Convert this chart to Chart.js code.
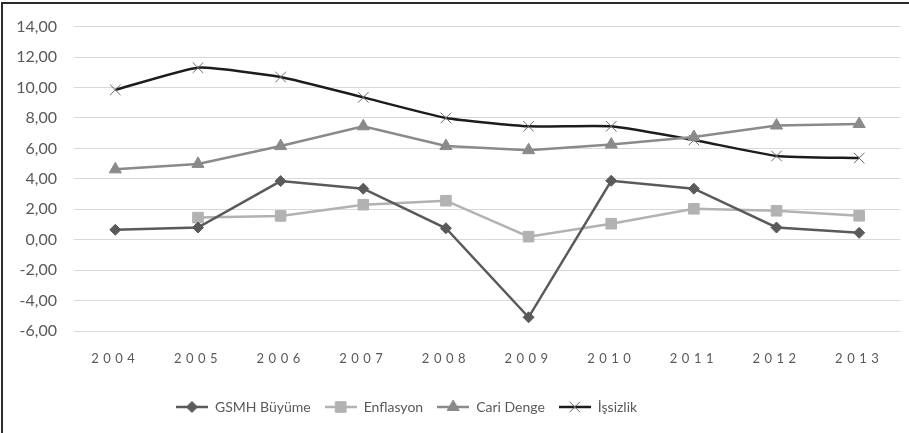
<!DOCTYPE html>
<html lang="tr">
  <head>
    <meta charset="utf-8" />
    <title>GSMH, Enflasyon, Cari Denge, İşsizlik</title>
    <style>
      * {
        margin: 0;
        padding: 0;
      }
      body {
        background: #fff;
      }
      .chartBox {
        position: relative;
        width: 909px;
        height: 433px;
      }
      .frame {
        position: absolute;
        left: 1px;
        top: 2px;
        right: 0;
        bottom: 0;
        border-left: 2px solid #2b2b2b;
        border-top: 2px solid #2b2b2b;
        pointer-events: none;
      }
    </style>
  </head>
  <body>
    <div class="chartBox">
      <canvas id="myChart"></canvas>
      <div class="frame"></div>
    </div>

    <script src="https://cdn.jsdelivr.net/npm/chart.js"></script>
    <script>
      // data
      const years = ["2004", "2005", "2006", "2007", "2008", "2009", "2010", "2011", "2012", "2013"];
      const gsmhBuyume = [0.65, 0.8, 3.85, 3.35, 0.75, -5.1, 3.87, 3.35, 0.8, 0.45];
      const enflasyon = [null, 1.45, 1.56, 2.3, 2.56, 0.2, 1.05, 2.03, 1.9, 1.57];
      const cariDenge = [4.62, 4.98, 6.15, 7.45, 6.15, 5.88, 6.25, 6.75, 7.5, 7.6];
      const issizlik = [9.84, 11.3, 10.69, 9.35, 8.0, 7.45, 7.45, 6.55, 5.5, 5.36];
      const yTicks = [-6, -4, -2, 0, 2, 4, 6, 8, 10, 12, 14];

      const FONT = "Lato, 'Open Sans', sans-serif";

      const markers = {
        gsmh: { style: "rectRot", r: 5.5 },
        enf: { style: "rect", r: 7.5 },
        cari: { style: "triangle", r: 7 },
        iss: { style: "crossRot", r: 7.5 },
      };

      // little line + marker picture for the legend
      const drawIcon = (lineColor, m, fill, border) => {
        const c = document.createElement("canvas");
        c.width = 32;
        c.height = 16;
        const ctx = c.getContext("2d");
        ctx.strokeStyle = lineColor;
        ctx.lineWidth = 2.5;
        ctx.beginPath();
        ctx.moveTo(0, 8);
        ctx.lineTo(32, 8);
        ctx.stroke();
        ctx.fillStyle = fill;
        ctx.strokeStyle = border;
        ctx.lineWidth = 1;
        Chart.helpers.drawPoint(ctx, { pointStyle: m.style, rotation: 0, radius: m.r, borderWidth: 1 }, 16, 8);
        return c;
      };

      const data = {
        labels: years,
        datasets: [
          {
            label: "GSMH Büyüme",
            data: gsmhBuyume,
            borderColor: "#5a5a5a",
            backgroundColor: "#5a5a5a",
            borderWidth: 2.5,
            pointStyle: markers.gsmh.style,
            pointRadius: markers.gsmh.r,
            pointBorderWidth: 1,
            tension: 0,
            icon: drawIcon("#5a5a5a", markers.gsmh, "#5a5a5a", "#5a5a5a"),
          },
          {
            label: "Enflasyon",
            data: enflasyon,
            borderColor: "#b2b2b2",
            backgroundColor: "#b2b2b2",
            borderWidth: 2.5,
            pointStyle: markers.enf.style,
            pointRadius: markers.enf.r,
            pointBorderWidth: 1,
            tension: 0,
            icon: drawIcon("#b2b2b2", markers.enf, "#b2b2b2", "#b2b2b2"),
          },
          {
            label: "Cari Denge",
            data: cariDenge,
            borderColor: "#8a8a8a",
            backgroundColor: "#8a8a8a",
            borderWidth: 2.5,
            pointStyle: markers.cari.style,
            pointRadius: markers.cari.r,
            pointBorderWidth: 1,
            tension: 0,
            icon: drawIcon("#8a8a8a", markers.cari, "#8a8a8a", "#8a8a8a"),
          },
          {
            label: "İşsizlik",
            data: issizlik,
            borderColor: "#1c1c1c",
            backgroundColor: "#6a6a6a",
            pointBorderColor: "#6a6a6a",
            borderWidth: 2.5,
            pointStyle: markers.iss.style,
            pointRadius: markers.iss.r,
            pointBorderWidth: 1,
            tension: 0.15,
            icon: drawIcon("#1c1c1c", markers.iss, "#6a6a6a", "#6a6a6a"),
          },
        ],
      };

      // x labels are letter-spaced in the original
      const spacedLabels = {
        id: "spacedLabels",
        afterLayout(chart) {
          const x = chart.scales.x;
          if (x && !x._spaced) {
            const orig = x.drawLabels;
            x.drawLabels = function (area) {
              this.ctx.save();
              this.ctx.letterSpacing = "4.5px";
              orig.call(this, area);
              this.ctx.restore();
            };
            x._spaced = true;
          }
          // legend sits a bit left of centre
          if (chart.legend) chart.legend.right -= 90;
        },
      };

      const config = {
        type: "line",
        data: data,
        options: {
          responsive: false,
          animation: false,
          layout: {
            padding: { left: 0, right: 6, top: 25, bottom: 9 },
          },
          plugins: {
            tooltip: { enabled: false },
            legend: {
              position: "bottom",
              labels: {
                usePointStyle: true,
                pointStyleWidth: 32,
                padding: 14,
                color: "#595959",
                font: { family: FONT, size: 14 },
                generateLabels(chart) {
                  return chart.data.datasets.map((ds, i) => ({
                    text: ds.label,
                    pointStyle: ds.icon,
                    fillStyle: ds.backgroundColor,
                    strokeStyle: ds.borderColor,
                    lineWidth: 0,
                    hidden: false,
                    datasetIndex: i,
                    fontColor: "#595959",
                  }));
                },
              },
            },
          },
          scales: {
            x: {
              offset: true,
              grid: { display: false, drawTicks: false },
              border: { display: false },
              ticks: {
                color: "#595959",
                font: { family: FONT, size: 13 },
                padding: 20,
                maxRotation: 0,
              },
              afterFit(scale) {
                scale.height = 55;
              },
            },
            y: {
              min: -6,
              max: 14,
              afterBuildTicks(scale) {
                scale.ticks = yTicks.map((v) => ({ value: v }));
              },
              grid: { color: "#d9d9d9", lineWidth: 1, drawTicks: false },
              border: { display: false },
              ticks: {
                color: "#595959",
                font: { family: FONT, size: 16 },
                padding: 17,
                callback: (v) => v.toFixed(2).replace(".", ","),
              },
              afterFit(scale) {
                scale.width = 74;
              },
            },
          },
        },
        plugins: [spacedLabels],
      };

      const canvas = document.getElementById("myChart");
      canvas.width = 909;
      canvas.height = 433;
      const myChart = new Chart(canvas, config);
    </script>
  </body>
</html>
